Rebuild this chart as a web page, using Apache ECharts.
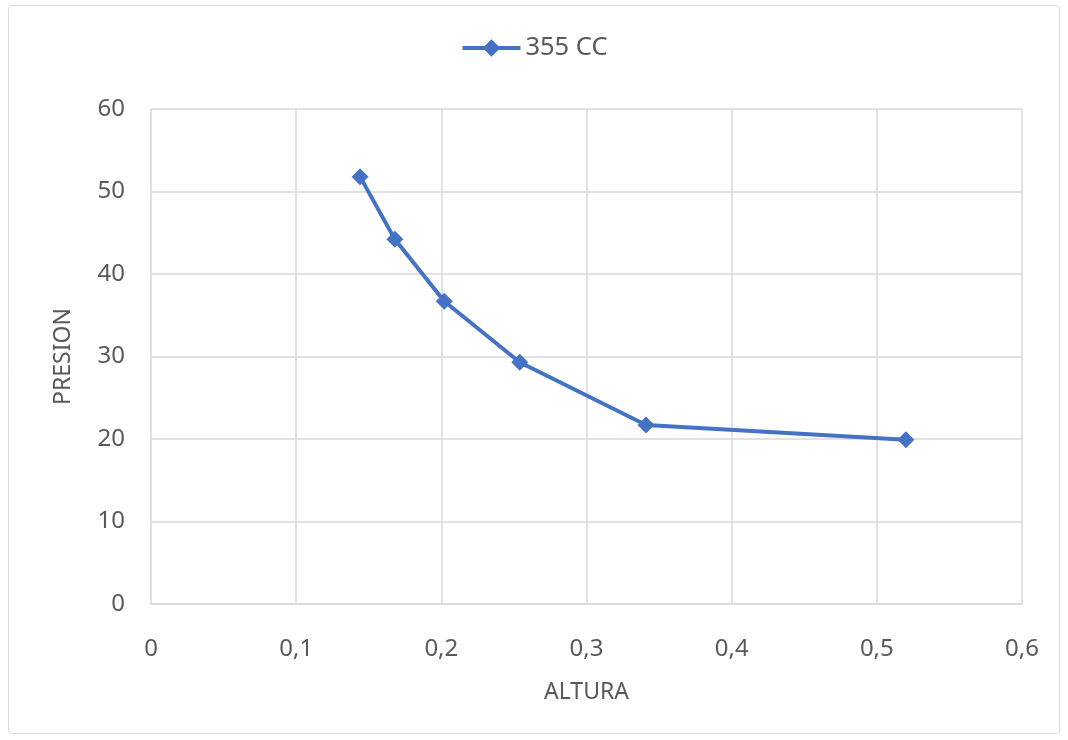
<!DOCTYPE html>
<html><head><meta charset="utf-8">
<script src="https://cdn.jsdelivr.net/npm/echarts@6/dist/echarts.min.js"></script>
<style>html,body{margin:0;padding:0;background:#fff}#c{width:1068px;height:740px}</style>
</head><body><div id="c"></div>
<script>
const seriesName = '355 CC';
const altura = [0.144, 0.168, 0.202, 0.254, 0.341, 0.520];
const presion = [51.8, 44.2, 36.7, 29.3, 21.7, 19.9];
const xTicks = [0, 0.1, 0.2, 0.3, 0.4, 0.5, 0.6];
const yTicks = [0, 10, 20, 30, 40, 50, 60];
const font = 'Noto Sans';
const chart = echarts.init(document.getElementById('c'));
chart.setOption({
  animation: false,
  textStyle: {fontFamily: font},
  graphic: [{type: 'rect', shape: {x: 8.5, y: 5.5, width: 1051, height: 728, r: 3}, style: {fill: 'none', stroke: '#d9d9d9', lineWidth: 1}, silent: true}],
  legend: {top: 30, left: 'center', itemWidth: 58, itemHeight: 22, itemGap: 4,
    lineStyle: {width: 4},
    textStyle: {fontSize: 25.5, color: '#595959', fontFamily: font}, data: [seriesName]},
  grid: {left: 151, right: 46, top: 109, bottom: 136},
  xAxis: {type: 'value', min: xTicks[0], max: xTicks[xTicks.length-1], interval: 0.1,
    name: 'ALTURA', nameLocation: 'middle', nameGap: 77,
    nameTextStyle: {fontSize: 23, color: '#595959'},
    axisLine: {show: true, lineStyle: {color: '#d9d9d9', width: 1.5}},
    axisTick: {show: false},
    splitLine: {show: true, lineStyle: {color: '#d9d9d9', width: 1.5}},
    axisLabel: {fontSize: 24, color: '#595959', margin: 33,
      formatter: v => String(Math.round(v*10)/10).replace('.', ',')}},
  yAxis: {type: 'value', min: yTicks[0], max: yTicks[yTicks.length-1], interval: 10,
    name: 'PRESION', nameLocation: 'middle', nameGap: 76,
    nameTextStyle: {fontSize: 23, color: '#595959'},
    axisLine: {show: false}, axisTick: {show: false},
    splitLine: {show: true, lineStyle: {color: '#d9d9d9', width: 1.5}},
    axisLabel: {fontSize: 24, color: '#595959', margin: 26}},
  series: [{name: seriesName, type: 'line', data: altura.map((x,i)=>[x, presion[i]]),
    symbol: 'diamond', symbolSize: 17,
    itemStyle: {color: '#4472C4'}, lineStyle: {color: '#4472C4', width: 4}}]
});
</script></body></html>
